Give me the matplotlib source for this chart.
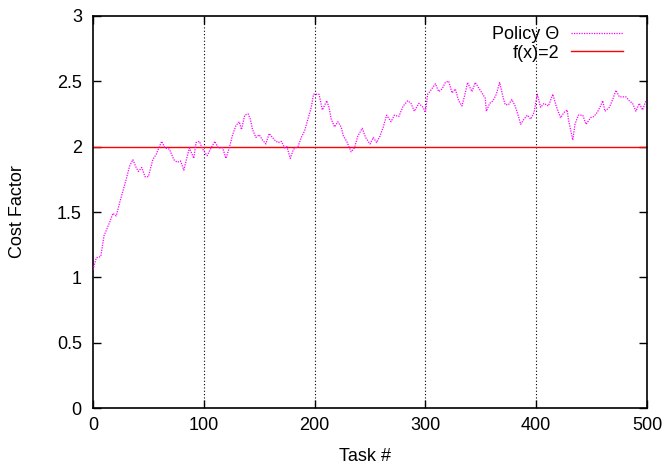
import numpy as np
import matplotlib
matplotlib.use('Agg')
import matplotlib.pyplot as plt

# values
task = [0, 3, 7, 10, 15, 18, 21, 24, 27, 30, 33, 36, 39, 41, 44, 47, 50, 54, 57, 60,
        62, 65, 69, 73, 76, 79, 82, 84, 87, 91, 93, 96, 99, 103, 106, 110, 113, 117, 120, 123,
        126, 129, 132, 134, 137, 140, 142, 144, 147, 150, 153, 156, 159, 162, 164, 167, 170, 173, 175, 178,
        181, 185, 188, 191, 194, 197, 199, 204, 207, 211, 213, 215, 218, 221, 224, 226, 229, 233, 236, 239,
        243, 246, 250, 253, 256, 259, 262, 265, 269, 272, 276, 280, 284, 287, 290, 294, 298, 300, 302, 304,
        309, 312, 315, 318, 321, 324, 327, 330, 333, 336, 338, 342, 345, 348, 351, 354, 355, 358, 361, 364,
        367, 370, 372, 375, 378, 381, 384, 386, 389, 392, 395, 398, 401, 404, 407, 411, 415, 418, 422, 425,
        428, 429, 431, 433, 435, 438, 442, 445, 449, 452, 455, 458, 460, 462, 466, 469, 472, 475, 478, 481,
        484, 487, 490, 493, 496, 499]
cost = [1.06, 1.15, 1.16, 1.32, 1.42, 1.49, 1.47, 1.57, 1.66, 1.75, 1.85, 1.90, 1.84, 1.81, 1.84, 1.77, 1.77, 1.90, 1.94, 2.00,
        2.04, 1.99, 1.98, 1.90, 1.88, 1.89, 1.82, 1.89, 1.99, 1.91, 2.03, 2.04, 1.98, 1.93, 1.98, 2.04, 1.99, 1.99, 1.91, 1.99,
        2.09, 2.16, 2.19, 2.13, 2.24, 2.25, 2.21, 2.13, 2.07, 2.09, 2.05, 2.02, 2.10, 2.07, 2.05, 2.03, 2.04, 1.99, 2.00, 1.91,
        1.98, 2.00, 2.07, 2.12, 2.21, 2.30, 2.40, 2.40, 2.28, 2.35, 2.30, 2.21, 2.15, 2.19, 2.15, 2.08, 2.04, 1.96, 1.99, 2.08,
        2.14, 2.07, 2.02, 2.07, 2.03, 2.08, 2.15, 2.24, 2.19, 2.24, 2.23, 2.31, 2.35, 2.33, 2.27, 2.33, 2.30, 2.26, 2.40, 2.42,
        2.48, 2.42, 2.44, 2.49, 2.50, 2.41, 2.44, 2.35, 2.31, 2.41, 2.49, 2.42, 2.49, 2.45, 2.41, 2.37, 2.27, 2.33, 2.35, 2.40,
        2.49, 2.38, 2.32, 2.32, 2.36, 2.31, 2.23, 2.17, 2.21, 2.24, 2.21, 2.26, 2.40, 2.30, 2.33, 2.31, 2.40, 2.31, 2.22, 2.26,
        2.28, 2.21, 2.13, 2.05, 2.17, 2.24, 2.24, 2.17, 2.22, 2.23, 2.26, 2.31, 2.35, 2.27, 2.30, 2.36, 2.43, 2.38, 2.38, 2.38,
        2.35, 2.33, 2.27, 2.33, 2.28, 2.35]
x_ticks = [0, 100, 200, 300, 400, 500]
y_ticks = [0, 0.5, 1, 1.5, 2, 2.5, 3]
y_tick_labels = ['0', '0.5', '1', '1.5', '2', '2.5', '3']
baseline = 2

plt.rcParams['font.family'] = ['Liberation Sans', 'DejaVu Sans']
plt.rcParams['font.size'] = 13

fig = plt.figure(figsize=(6.66, 4.65), dpi=100)
ax = fig.add_axes([0.1396, 0.1219, 0.8319, 0.8443])

# vertical dotted grid like gnuplot
for xv in x_ticks[1:-1]:
    ax.axvline(xv, color='black', linestyle=(0, (1, 2)), linewidth=0.8, zorder=1)

ax.plot(task, cost, color='#ff00ff', linestyle=(0, (1, 1)), linewidth=0.9,
        label='Policy \u0398', zorder=3)
ax.axhline(baseline, color='#ff0000', linewidth=1.0, label='f(x)=2', zorder=2)

ax.set_xlim(0, 500)
ax.set_ylim(0, 3)
ax.set_xticks(x_ticks)
ax.set_yticks(y_ticks)
ax.set_yticklabels(y_tick_labels)
ax.tick_params(axis='x', direction='in', length=6, width=1, top=True, pad=6)
ax.tick_params(axis='y', direction='in', length=6, width=1, right=True, pad=8)
for s in ax.spines.values():
    s.set_linewidth(1.2)

ax.set_xlabel('Task #', va='center')
ax.xaxis.set_label_coords(0.491, -0.122)
ax.set_ylabel('Cost Factor', va='center')
ax.yaxis.set_label_coords(-0.136, 0.5)

ax.legend(loc='upper right', bbox_to_anchor=(0.963, 0.983), frameon=False,
          markerfirst=False, handlelength=2.9, borderaxespad=0, borderpad=0.2,
          labelspacing=0.1, handletextpad=0.6)

fig.savefig('out.png', dpi=100)
